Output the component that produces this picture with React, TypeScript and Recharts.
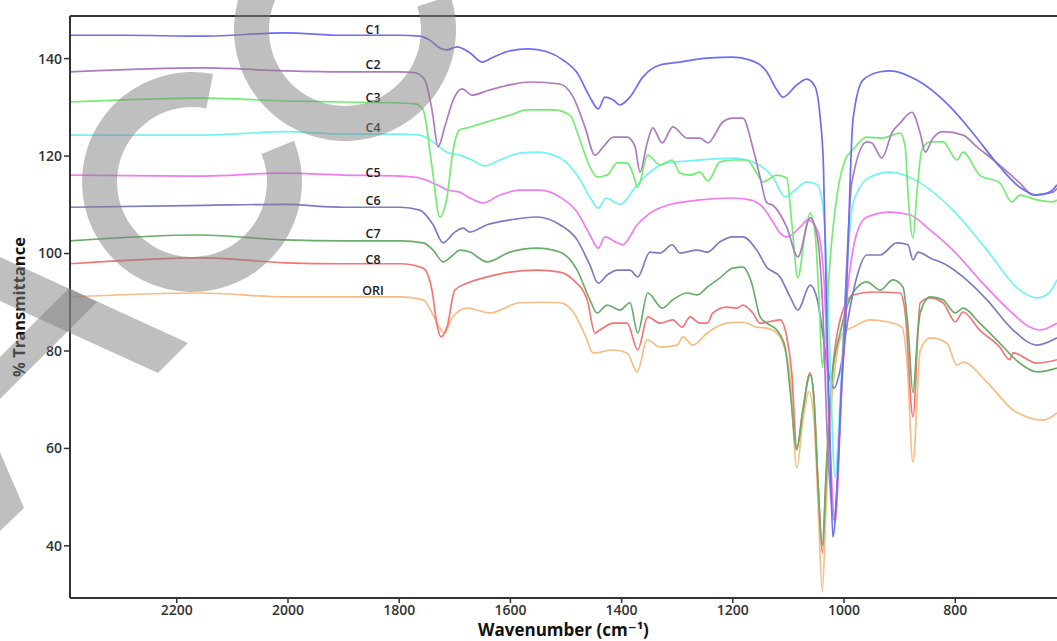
import React from 'react';
import { LineChart, Line, XAxis, YAxis, ReferenceLine, ReferenceDot } from 'recharts';

// FTIR spectra, [wavenumber cm-1, % transmittance]
const c1: [number, number][] = [
  [2392, 144.8], [2300, 144.8], [2150, 144.6], [2005, 145.3], [1900, 144.8], [1800, 144.8], [1763, 144.6],
  [1745, 143.8], [1727, 142.2], [1714, 141.8], [1696, 142.4], [1673, 141.2], [1651, 139.3], [1631, 140.3],
  [1601, 141.6], [1568, 142.0], [1534, 141.4], [1505, 139.7], [1480, 137.1], [1457, 132.1], [1442, 129.7],
  [1430, 132.1], [1415, 131.5], [1403, 130.5], [1385, 132.1], [1362, 136.2], [1331, 138.7], [1295, 139.3],
  [1246, 140.1], [1200, 140.3], [1169, 139.7], [1139, 137.3], [1121, 133.6], [1110, 132.1], [1085, 134.6],
  [1067, 135.8], [1052, 134.2], [1043, 128.0], [1037, 117.8], [1031, 86.4], [1025, 59.7], [1020, 41.8],
  [1012, 53.5], [1004, 74.1], [998, 84.0], [993, 100.7], [984, 127.4], [966, 135.6], [935, 137.3],
  [917, 137.5], [869, 135.6], [809, 130.1], [768, 124.7], [720, 117.8], [684, 113.6], [653, 112.0],
  [630, 112.6], [617, 114.1],
];

const c2: [number, number][] = [
  [2392, 137.3], [2150, 138.1], [2005, 137.5], [1900, 137.3], [1800, 137.3], [1771, 137.1], [1754, 135.6],
  [1741, 129.5], [1730, 121.9], [1718, 126.0], [1703, 131.5], [1687, 133.8], [1669, 132.5], [1642, 133.4],
  [1601, 134.6], [1565, 135.2], [1511, 134.8], [1487, 132.1], [1466, 126.0], [1448, 120.2], [1433, 121.9],
  [1415, 123.9], [1390, 123.9], [1376, 122.0], [1367, 116.7], [1354, 122.7], [1344, 125.8], [1327, 122.7],
  [1308, 126.0], [1282, 123.7], [1259, 123.7], [1245, 122.7], [1218, 127.0], [1200, 127.8], [1182, 127.8],
  [1164, 121.7], [1151, 115.7], [1139, 110.4], [1128, 109.9], [1103, 105.4], [1083, 99.3], [1061, 107.3],
  [1048, 103.4], [1039, 90.5], [1029, 59.7], [1018, 45.3], [1007, 65.8], [998, 90.5], [986, 114.5],
  [959, 122.9], [950, 122.7], [932, 119.6], [913, 125.0], [899, 126.8], [878, 129.0], [863, 124.7],
  [854, 120.8], [840, 123.7], [822, 125.0], [786, 124.3], [761, 121.9], [725, 118.6], [684, 114.5],
  [660, 112.0], [624, 112.6], [617, 113.4],
];

const c3: [number, number][] = [
  [2392, 131.1], [2150, 131.9], [2005, 131.3], [1900, 131.1], [1798, 130.9], [1771, 130.7], [1757, 129.5],
  [1741, 117.8], [1727, 107.5], [1714, 111.6], [1703, 121.3], [1691, 125.4], [1678, 125.8], [1660, 126.4],
  [1631, 127.4], [1601, 128.4], [1570, 129.5], [1523, 129.5], [1493, 128.4], [1475, 123.3], [1457, 117.8],
  [1444, 115.7], [1426, 116.1], [1408, 118.6], [1390, 118.6], [1380, 116.5], [1371, 113.6], [1353, 120.2],
  [1331, 118.2], [1309, 119.2], [1295, 116.5], [1277, 116.1], [1259, 116.7], [1245, 114.9], [1223, 118.8],
  [1200, 119.2], [1175, 119.2], [1157, 116.5], [1146, 114.7], [1121, 116.1], [1103, 115.5], [1094, 106.3],
  [1083, 95.0], [1070, 104.2], [1061, 108.3], [1052, 104.2], [1045, 90.5], [1039, 76.7], [1034, 82.3],
  [1025, 98.7], [1012, 112.4], [998, 119.2], [984, 121.3], [959, 123.9], [932, 123.7], [899, 124.7],
  [890, 121.9], [885, 112.4], [876, 103.2], [869, 112.4], [860, 121.3], [845, 122.9], [822, 122.9],
  [797, 119.2], [786, 120.8], [756, 116.1], [720, 114.5], [698, 110.6], [684, 112.0], [653, 111.0],
  [624, 110.6], [617, 111.0],
];

const c4: [number, number][] = [
  [2392, 124.3], [2150, 124.3], [2005, 125.0], [1900, 124.5], [1798, 124.5], [1763, 124.3], [1739, 122.9],
  [1714, 120.8], [1691, 120.2], [1669, 119.2], [1646, 118.0], [1619, 119.2], [1583, 120.6], [1552, 120.8],
  [1511, 119.6], [1480, 116.1], [1457, 111.6], [1442, 109.3], [1428, 111.4], [1403, 110.1], [1372, 114.1],
  [1349, 116.7], [1318, 118.6], [1277, 119.0], [1200, 119.6], [1164, 118.8], [1128, 115.7], [1106, 111.6],
  [1088, 113.0], [1067, 114.7], [1048, 114.1], [1036, 107.5], [1027, 84.3], [1016, 54.1], [1007, 70.0],
  [996, 94.6], [986, 108.9], [977, 112.4], [953, 115.7], [917, 116.7], [863, 114.5], [804, 108.9],
  [743, 100.7], [684, 92.5], [653, 90.9], [630, 92.1], [617, 94.6],
];

const c5: [number, number][] = [
  [2392, 116.1], [2150, 115.9], [2014, 116.5], [1900, 116.1], [1798, 115.9], [1763, 115.5], [1732, 114.1],
  [1712, 113.0], [1691, 112.6], [1673, 111.4], [1649, 110.4], [1619, 112.0], [1583, 113.0], [1547, 113.0],
  [1511, 111.6], [1480, 108.5], [1457, 103.8], [1442, 101.1], [1430, 103.4], [1408, 102.2], [1398, 101.8],
  [1372, 105.9], [1349, 108.3], [1318, 109.9], [1259, 111.0], [1200, 111.4], [1169, 111.0], [1146, 109.5],
  [1130, 106.9], [1115, 104.2], [1103, 103.4], [1079, 105.4], [1065, 106.9], [1048, 104.8], [1036, 94.6],
  [1027, 65.8], [1016, 44.9], [1005, 70.0], [995, 90.5], [984, 100.7], [977, 104.2], [959, 107.5],
  [917, 108.5], [881, 107.9], [845, 104.8], [804, 100.7], [756, 94.6], [707, 88.8], [666, 84.9],
  [648, 84.3], [617, 85.7],
];

const c6: [number, number][] = [
  [2392, 109.5], [2150, 109.9], [2009, 110.1], [1900, 109.5], [1798, 109.5], [1763, 108.9], [1739, 105.9],
  [1721, 102.2], [1700, 104.4], [1685, 105.2], [1673, 104.4], [1642, 105.9], [1601, 106.9], [1552, 107.5],
  [1511, 105.9], [1480, 102.8], [1457, 97.6], [1442, 93.9], [1426, 95.6], [1407, 96.6], [1385, 96.6],
  [1371, 95.2], [1349, 100.3], [1331, 100.1], [1309, 101.8], [1295, 100.1], [1264, 100.7], [1246, 100.3],
  [1223, 102.4], [1200, 103.4], [1182, 103.4], [1157, 100.7], [1139, 97.2], [1115, 95.2], [1097, 91.1],
  [1083, 88.4], [1061, 93.5], [1048, 90.5], [1039, 84.3], [1029, 76.1], [1018, 72.4], [1007, 76.1],
  [993, 86.4], [977, 95.2], [959, 99.7], [935, 99.7], [905, 102.2], [885, 101.8], [876, 98.7],
  [867, 100.3], [845, 99.1], [815, 97.6], [786, 95.2], [743, 90.5], [696, 84.3], [653, 81.2], [617, 82.7],
];

const c7: [number, number][] = [
  [2392, 102.6], [2158, 103.8], [2005, 102.8], [1900, 102.6], [1798, 102.6], [1757, 102.2], [1739, 100.7],
  [1721, 98.3], [1703, 99.7], [1691, 100.7], [1673, 100.3], [1642, 98.3], [1601, 100.3], [1552, 101.1],
  [1511, 100.3], [1480, 96.6], [1457, 90.5], [1444, 87.8], [1426, 89.4], [1403, 88.4], [1385, 89.9],
  [1371, 83.7], [1353, 91.9], [1327, 88.8], [1308, 90.5], [1282, 91.9], [1264, 91.5], [1246, 93.1],
  [1223, 95.0], [1200, 97.0], [1182, 97.2], [1166, 93.9], [1151, 87.0], [1139, 85.7], [1121, 84.3],
  [1106, 80.8], [1097, 72.0], [1085, 59.7], [1074, 67.9], [1061, 75.1], [1054, 70.0], [1047, 53.5],
  [1039, 40.2], [1032, 55.6], [1022, 74.1], [1007, 83.7], [984, 91.9], [959, 94.2], [935, 92.5],
  [912, 94.6], [894, 93.1], [885, 84.9], [876, 71.4], [867, 84.3], [863, 87.8], [845, 91.1], [822, 90.5],
  [800, 87.8], [786, 88.8], [756, 85.7], [720, 81.6], [684, 77.5], [653, 75.7], [617, 76.5],
];

const c8: [number, number][] = [
  [2392, 97.9], [2150, 99.1], [2005, 98.1], [1900, 97.9], [1798, 97.9], [1757, 97.0], [1741, 92.5],
  [1732, 85.3], [1725, 82.9], [1714, 84.9], [1700, 92.5], [1678, 93.9], [1642, 95.2], [1601, 96.2],
  [1552, 96.6], [1511, 96.2], [1487, 94.6], [1462, 90.5], [1448, 83.7], [1439, 84.3], [1415, 85.7],
  [1390, 85.7], [1371, 80.2], [1353, 87.0], [1331, 85.7], [1308, 86.4], [1291, 84.9], [1277, 87.0],
  [1259, 85.7], [1246, 85.7], [1236, 87.8], [1211, 89.0], [1193, 88.8], [1182, 89.4], [1164, 87.8],
  [1151, 85.7], [1115, 86.4], [1103, 82.9], [1094, 75.5], [1085, 60.1], [1074, 67.9], [1061, 75.5],
  [1054, 70.0], [1047, 53.5], [1039, 38.6], [1032, 54.6], [1022, 74.1], [1007, 86.4], [984, 91.5],
  [948, 92.1], [899, 91.9], [890, 87.8], [876, 66.5], [863, 89.9], [845, 90.9], [822, 89.9], [800, 86.0],
  [786, 88.0], [756, 84.3], [720, 80.8], [702, 78.2], [696, 79.6], [653, 77.5], [617, 78.2],
];

const ori: [number, number][] = [
  [2392, 91.1], [2158, 91.9], [2005, 91.1], [1900, 91.1], [1798, 91.1], [1757, 90.5], [1739, 87.4],
  [1727, 84.7], [1718, 83.7], [1705, 86.8], [1678, 88.8], [1637, 87.8], [1583, 89.9], [1541, 90.0],
  [1511, 89.9], [1487, 88.0], [1466, 83.3], [1451, 79.6], [1415, 80.2], [1390, 79.6], [1372, 75.7],
  [1354, 82.3], [1331, 80.8], [1300, 81.2], [1290, 82.9], [1272, 81.2], [1246, 83.7], [1211, 85.7],
  [1182, 85.9], [1157, 84.9], [1139, 84.7], [1121, 83.7], [1110, 81.6], [1097, 74.7], [1085, 56.0],
  [1074, 65.8], [1063, 71.6], [1054, 65.8], [1047, 49.4], [1039, 30.7], [1032, 49.4], [1022, 70.0],
  [1002, 83.7], [984, 84.9], [953, 86.4], [923, 86.0], [896, 84.9], [887, 78.2], [876, 57.2], [863, 80.2],
  [845, 82.7], [815, 81.6], [797, 77.1], [786, 77.7], [743, 73.6], [696, 67.9], [642, 65.8], [617, 67.3],
];

const seriesNames = ['C1', 'C2', 'C3', 'C4', 'C5', 'C6', 'C7', 'C8', 'ORI'];
const seriesValues = [c1, c2, c3, c4, c5, c6, c7, c8, ori];
const seriesColors = ['#6e6ef0', '#ad7cbf', '#74ec74', '#72f2f2', '#f27af2', '#7c7cc2', '#68ad68', '#f27676', '#f6bd84'];
// where each series name sits (transmittance value next to the curve)
const nameLevels = [145.9, 138.7, 132.1, 125.8, 116.7, 110.8, 104.0, 98.7, 92.5];

const wavenumberTicks = [2200, 2000, 1800, 1600, 1400, 1200, 1000, 800];
const transmittanceTicks = [40, 60, 80, 100, 120, 140];

const FONT = '"Open Sans", "DejaVu Sans", sans-serif';

// watermark ring segment
const ring = (cx: number, cy: number, ro: number, ri: number, a0: number, a1: number) => {
  const p = (r: number, a: number) => {
    const t = (a * Math.PI) / 180;
    return `${cx + r * Math.cos(t)} ${cy + r * Math.sin(t)}`;
  };
  const large = a1 - a0 > 180 ? 1 : 0;
  return `M ${p(ro, a0)} A ${ro} ${ro} 0 ${large} 1 ${p(ro, a1)} L ${p(ri, a1)} A ${ri} ${ri} 0 ${large} 0 ${p(ri, a0)} Z`;
};

const Watermark = () => (
  <svg width={1057} height={641} style={{ position: 'absolute', left: 0, top: 0, pointerEvents: 'none' }}>
    <g fill="#808080" fillOpacity={0.5}>
      <path d={ring(192, 182, 110, 75, -22, 281)} />
      <path d={ring(345, 30, 111, 76, -18, 250)} />
      <polygon points="0,257 188,343 158,373 0,301" />
      <polygon points="0,357 0,399 97,302 69,288" />
      <polygon points="0,452 24,508 0,531" />
    </g>
  </svg>
);

export default function App() {
  return (
    <div style={{ position: 'absolute', left: 0, top: 0, width: 1057, height: 641, background: '#fff' }}>
      <LineChart width={1057} height={641} margin={{ top: 16, right: 0, bottom: 0, left: 0 }}>
        <XAxis
          type="number"
          dataKey="w"
          domain={[617, 2392]}
          reversed
          allowDataOverflow
          ticks={wavenumberTicks}
          height={43}
          tickSize={5}
          tickMargin={2}
          axisLine={{ stroke: '#333', strokeWidth: 2 }}
          tickLine={{ stroke: '#333', strokeWidth: 1.5 }}
          tick={{ fontSize: 14, fontFamily: FONT, fill: '#333', fontWeight: 600 }}
          label={{
            value: 'Wavenumber (cm⁻¹)',
            position: 'insideBottom',
            offset: 5,
            style: { fontSize: 17, fontFamily: FONT, fontWeight: 700, fill: '#111' },
          }}
        />
        <YAxis
          type="number"
          domain={[29.3, 148.75]}
          allowDataOverflow
          ticks={transmittanceTicks}
          width={70}
          tickSize={6}
          tickMargin={2}
          axisLine={{ stroke: '#333', strokeWidth: 2 }}
          tickLine={{ stroke: '#333', strokeWidth: 1.5 }}
          tick={{ fontSize: 14, fontFamily: FONT, fill: '#333', fontWeight: 600 }}
          label={{
            value: '% Transmittance',
            angle: -90,
            position: 'insideLeft',
            offset: 19,
            style: { textAnchor: 'middle', fontSize: 16.5, fontFamily: FONT, fontWeight: 700, fill: '#111' },
          }}
        />
        <ReferenceLine y={148.75} stroke="#333" strokeWidth={2} />
        {seriesValues
          .map((vals, i) => (
            <Line
              key={seriesNames[i]}
              data={vals.map(([w, v]) => ({ w, v }))}
              dataKey="v"
              name={seriesNames[i]}
              type="monotone"
              stroke={seriesColors[i]}
              strokeWidth={1.7}
              dot={false}
              isAnimationActive={false}
            />
          ))
          .reverse()}
        {seriesNames.map((name, i) => (
          <ReferenceDot
            key={'lbl-' + name}
            x={1847}
            y={nameLevels[i]}
            r={0}
            fill="none"
            stroke="none"
            label={{ value: name, position: 'center', fontSize: 12.5, fontFamily: FONT, fontWeight: 600, fill: '#222' }}
          />
        ))}
      </LineChart>
      <Watermark />
    </div>
  );
}
